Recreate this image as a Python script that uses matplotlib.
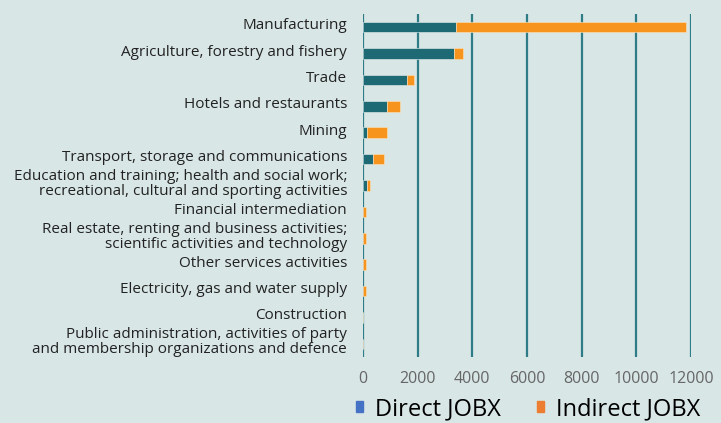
import numpy as np
import matplotlib.pyplot as plt
import matplotlib.transforms as mtransforms
from matplotlib.patches import Patch

plt.rcParams['font.family'] = ['Open Sans', 'DejaVu Sans']

categories = [
    'Manufacturing',
    'Agriculture, forestry and fishery',
    'Trade',
    'Hotels and restaurants',
    'Mining',
    'Transport, storage and communications',
    'Education and training; health and social work;\nrecreational, cultural and sporting activities',
    'Financial intermediation',
    'Real estate, renting and business activities;\nscientific activities and technology',
    'Other services activities',
    'Electricity, gas and water supply',
    'Construction',
    'Public administration, activities of party\nand membership organizations and defence',
]
direct = [3400, 3330, 1610, 890, 160, 370, 160, 10, 10, 10, 10, 0, 0]
indirect = [8410, 330, 270, 450, 730, 400, 85, 90, 90, 90, 90, 0, 0]
xticks = [0, 2000, 4000, 6000, 8000, 10000, 12000]

bg = '#D8E6E5'
teal = '#1D6A75'
orange = '#F7941D'

fig = plt.figure(figsize=(7.21, 4.23), dpi=100, facecolor=bg)
ax = fig.add_axes([363/721, 1-357/423, (691-363)/721, (357-14)/423], facecolor=bg)

y = np.arange(len(categories))
ax.barh(y, direct, height=0.4, color=teal, edgecolor='#E8F0EF', linewidth=0.4, zorder=3)
ax.barh(y, indirect, left=direct, height=0.4, color=orange, edgecolor='#FCE3C0', linewidth=0.4, zorder=3)

ax.set_ylim(len(categories)-0.5, -0.5)
ax.set_xlim(0, 12000)
ax.set_yticks(y)
ax.set_yticklabels(categories, fontsize=11, color='#222222', linespacing=1.0)
ax.set_xticks(xticks)
ax.set_xticklabels([str(t) for t in xticks], fontsize=11.5, color='#666666')
ax.tick_params(axis='both', length=0)
ax.tick_params(axis='y', pad=11.5)
ax.tick_params(axis='x', pad=10)
ax.grid(axis='x', color='#2F7C86', linewidth=1.6, zorder=0)
for s in ax.spines.values():
    s.set_visible(False)

# nudge category labels up a little
shift = mtransforms.ScaledTranslation(0, 2.5/72, fig.dpi_scale_trans)
for lab in ax.get_yticklabels():
    lab.set_transform(lab.get_transform() + shift)

handles = [Patch(color='#4472C4', label='Direct JOBX'),
           Patch(color='#ED7D31', label='Indirect JOBX')]
fig.legend(handles=handles, loc='center', bbox_to_anchor=(528/721, 1-409/423), ncol=2,
           frameon=False, fontsize=17, handlelength=0.33, handleheight=0.33,
           handletextpad=0.5, columnspacing=1.5)

fig.savefig('out.png', dpi=100, facecolor=bg)
